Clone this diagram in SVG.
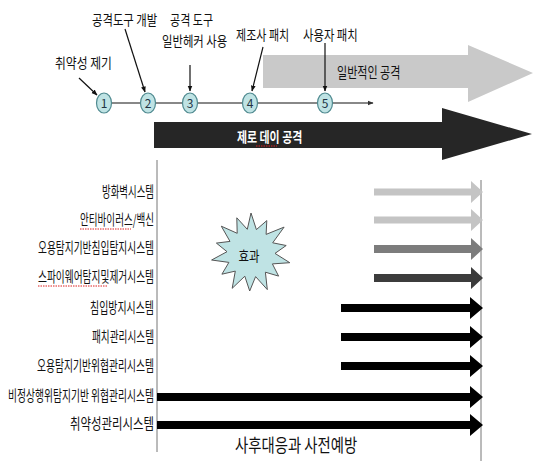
<svg xmlns="http://www.w3.org/2000/svg" width="533" height="461" viewBox="0 0 533 461">
<defs>
<style>
text{font-family:"Noto Sans CJK KR","Noto Sans",sans-serif;fill:#111}
.lbl{font-size:14.5px;text-anchor:end}
.top{font-size:14px}
.num{font-size:12px;text-anchor:middle;fill:#234}
.ptr{stroke:#111;stroke-width:1.2;fill:none;marker-end:url(#ah)}
.circ{fill:#bfe3e4;stroke:#4f8a90;stroke-width:1.2}
.sq{stroke:#d22;stroke-width:1;fill:none;stroke-dasharray:1.5 1}
</style>
<marker id="ah" viewBox="0 0 10 10" refX="9" refY="5" markerWidth="5" markerHeight="5" orient="auto"><path d="M0,1 L10,5 L0,9 z" fill="#111"/></marker>
<marker id="ahs" viewBox="0 0 10 10" refX="9" refY="5" markerWidth="3" markerHeight="3" orient="auto"><path d="M0,1 L10,5 L0,9 z" fill="#333"/></marker>
</defs>
<rect width="533" height="461" fill="#fff"/>

<g id="general-attack">
<polygon points="263,55 468,55 468,45 533,73 468,102 468,88 263,88" fill="#c9c9c9"/>
<text transform="translate(337,78) scale(0.72,1)" font-size="15" textLength="88" lengthAdjust="spacingAndGlyphs">일반적인 공격</text>
</g>
<g id="zero-day">
<polygon points="154,122 442,122 442,108 532,134 442,160 442,148 154,148" fill="#262626"/>
<text transform="translate(237,142) scale(0.75,1)" font-size="14" font-weight="bold" style="fill:#fff" textLength="87" lengthAdjust="spacingAndGlyphs">제로 데이 공격</text>
<path class="sq" d="M256,146 L277,146"/>
</g>

<g id="connectors">
<line x1="104" y1="103" x2="373" y2="103" stroke="#888" stroke-width="2" marker-end="url(#ahs)"/>
<line class="ptr" x1="79" y1="78" x2="97" y2="95"/>
<line class="ptr" x1="125" y1="29" x2="145" y2="92"/>
<line class="ptr" x1="190" y1="65" x2="190" y2="91"/>
<line class="ptr" x1="263" y1="47" x2="252" y2="91"/>
<line class="ptr" x1="325" y1="43" x2="325" y2="91"/>
<line x1="157" y1="160" x2="157" y2="452" stroke="#777" stroke-width="1"/>
<line x1="481" y1="180" x2="481" y2="461" stroke="#777" stroke-width="1"/>
</g>

<g id="m1"><ellipse class="circ" cx="104" cy="103" rx="7.5" ry="10"/><text class="num" x="104" y="107.5">1</text></g>
<g id="m2"><ellipse class="circ" cx="148" cy="103" rx="7.5" ry="10"/><text class="num" x="148" y="107.5">2</text></g>
<g id="m3"><ellipse class="circ" cx="190" cy="103" rx="7.5" ry="10"/><text class="num" x="190" y="107.5">3</text></g>
<g id="m4"><ellipse class="circ" cx="250" cy="103" rx="7.5" ry="10"/><text class="num" x="250" y="107.5">4</text></g>
<g id="m5"><ellipse class="circ" cx="325" cy="103" rx="7.5" ry="10"/><text class="num" x="325" y="107.5">5</text></g>

<g id="top-labels">
<text class="top" transform="translate(55,68) scale(0.78,1)" textLength="73" lengthAdjust="spacingAndGlyphs">취약성 제기</text>
<text class="top" transform="translate(92,25) scale(0.75,1)" textLength="87" lengthAdjust="spacingAndGlyphs">공격도구 개발</text>
<text class="top" transform="translate(170,25) scale(0.73,1)" textLength="59" lengthAdjust="spacingAndGlyphs">공격 도구</text>
<text class="top" transform="translate(162,45.5) scale(0.75,1)" textLength="87" lengthAdjust="spacingAndGlyphs">일반헤커 사용</text>
<text class="top" transform="translate(236,40) scale(0.73,1)" textLength="73" lengthAdjust="spacingAndGlyphs">제조사 패치</text>
<text class="top" transform="translate(303,40) scale(0.75,1)" textLength="73" lengthAdjust="spacingAndGlyphs">사용자 패치</text>
</g>

<g id="effect">
<polygon points="251,213 256.4,229.6 266.8,220.6 266.1,234.4 284.1,227.1 272.7,242.8 286.2,245.5 275,253.4 289.8,262.7 272.4,263.9 278.6,276.1 265.4,272.2 267.3,289.6 255.6,276.6 249.7,291 244.8,276.2 232.2,288.3 235.3,271.1 221.9,274.2 228.9,262.4 211.6,260 227,251.7 216.4,243.1 230,241.4 221.3,226.2 237.2,233.3 236.8,217.8 247.3,229.3" fill="#bfe3e4" stroke="#555" stroke-width="1"/>
<text x="249" y="261" font-size="14" text-anchor="middle" textLength="21" lengthAdjust="spacingAndGlyphs">효과</text>
</g>

<g id="r1"><text class="lbl" x="154" y="197" textLength="52" lengthAdjust="spacingAndGlyphs">방화벽시스템</text>
<polygon points="374,188.5 471,188.5 471,181 483,192 471,203 471,195.5 374,195.5" fill="#c4c4c4"/></g>
<g id="r2"><text class="lbl" x="154" y="225" textLength="74" lengthAdjust="spacingAndGlyphs">안티바이러스/백신</text>
<path class="sq" d="M80,229 L131,229"/>
<polygon points="374,216.5 471,216.5 471,209 483,220 471,231 471,223.5 374,223.5" fill="#c4c4c4"/></g>
<g id="r3"><text class="lbl" x="154" y="253" textLength="116" lengthAdjust="spacingAndGlyphs">오용탐지기반침입탐지시스템</text>
<polygon points="374,245 471,245 471,238 483,249 471,260 471,253 374,253" fill="#7c7c7c"/></g>
<g id="r4"><text class="lbl" x="154" y="282" textLength="116" lengthAdjust="spacingAndGlyphs">스파이웨어탐지및제거시스템</text>
<path class="sq" d="M38,286 L108,286"/>
<polygon points="374,274 471,274 471,267 483,278 471,289 471,282 374,282" fill="#3c3c3c"/></g>
<g id="r5"><text class="lbl" x="154" y="313" textLength="64" lengthAdjust="spacingAndGlyphs">침입방지시스템</text>
<polygon points="341,304 470,304 470,297 483,308 470,319 470,312 341,312" fill="#000"/></g>
<g id="r6"><text class="lbl" x="154" y="342" textLength="62" lengthAdjust="spacingAndGlyphs">패치관리시스템</text>
<polygon points="341,333 470,333 470,326 483,337 470,348 470,341 341,341" fill="#000"/></g>
<g id="r7"><text class="lbl" x="154" y="371" textLength="117" lengthAdjust="spacingAndGlyphs">오용탐지기반위협관리시스템</text>
<polygon points="341,362 470,362 470,355 483,366 470,377 470,370 341,370" fill="#000"/></g>
<g id="r8"><text class="lbl" x="154" y="401" textLength="146" lengthAdjust="spacingAndGlyphs">비정상행위탐지기반 위협관리시스템</text>
<polygon points="157,393 470,393 470,386 483,397 470,408 470,401 157,401" fill="#000"/></g>
<g id="r9"><text class="lbl" x="154" y="429" textLength="84" lengthAdjust="spacingAndGlyphs">취약성관리시스템</text>
<polygon points="157,421 470,421 470,414 483,425 470,436 470,429 157,429" fill="#000"/></g>

<text transform="translate(235,452) scale(0.75,1)" font-size="18" textLength="163" lengthAdjust="spacingAndGlyphs">사후대응과 사전예방</text>
</svg>
